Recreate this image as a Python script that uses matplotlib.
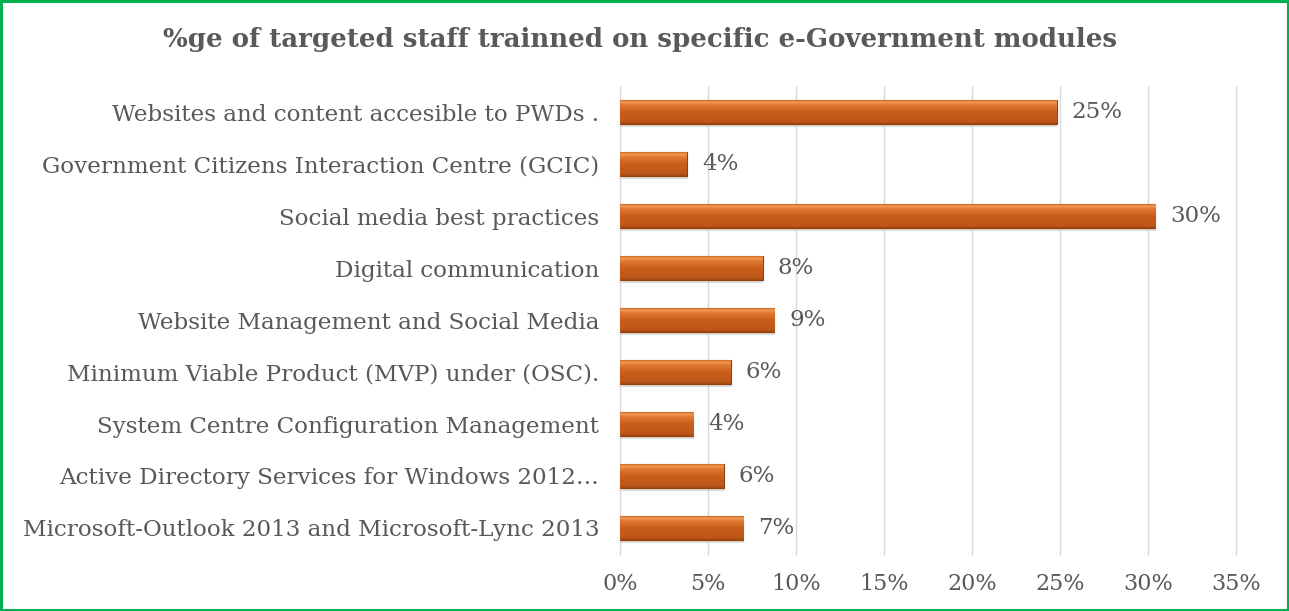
import numpy as np
import matplotlib
matplotlib.use("Agg")
import matplotlib.pyplot as plt
from matplotlib.colors import LinearSegmentedColormap
from matplotlib.patches import Rectangle

title = "%ge of targeted staff trainned on specific e-Government modules"
categories = [
    "Websites and content accesible to PWDs .",
    "Government Citizens Interaction Centre (GCIC)",
    "Social media best practices",
    "Digital communication",
    "Website Management and Social Media",
    "Minimum Viable Product (MVP) under (OSC).",
    "System Centre Configuration Management",
    "Active Directory Services for Windows 2012…",
    "Microsoft-Outlook 2013 and Microsoft-Lync 2013",
]
values = [24.8, 3.8, 30.4, 8.1, 8.75, 6.3, 4.15, 5.9, 7.0]
value_labels = ["25%", "4%", "30%", "8%", "9%", "6%", "4%", "6%", "7%"]
xticks = [0, 5, 10, 15, 20, 25, 30, 35]
xtick_labels = ["0%", "5%", "10%", "15%", "20%", "25%", "30%", "35%"]

plt.rcParams['font.family'] = ['DejaVu Serif']
fig = plt.figure(figsize=(12.89, 6.11), dpi=100)
ax = fig.add_axes([0.481, 0.0933, 0.478, 0.7659])

gray = "#595959"
y = np.arange(len(categories))
bars = ax.barh(y, values, height=0.45, color="#C55A11", edgecolor="#8E3F0C",
               linewidth=0.8, zorder=3)

cmap = LinearSegmentedColormap.from_list(
    "bev", [(0.0, "#A5480F"), (0.12, "#C0581A"), (0.5, "#C95E1B"),
            (0.8, "#E07A30"), (0.92, "#F39A55"), (1.0, "#D06A26")])
grad = np.linspace(0, 1, 64).reshape(-1, 1)
for b in bars:
    x0, y0, w, h = b.get_x(), b.get_y(), b.get_width(), b.get_height()
    ax.add_patch(Rectangle((x0 + 0.05, y0 + h), w, 0.06, color="#BBBBBB",
                           alpha=0.5, zorder=2, linewidth=0))
    im = ax.imshow(grad, extent=(x0, x0 + w, y0 + h, y0), cmap=cmap,
                   aspect="auto", zorder=3.5, origin="lower")
    im.set_clip_path(b)

for yi, v, lab in zip(y, values, value_labels):
    ax.text(v + 0.85, yi, lab, va="center", ha="left", fontsize=16.5,
            color=gray, zorder=5)

ax.set_xlim(0, 35)
ax.set_ylim(len(categories) - 0.5, -0.5)
ax.set_yticks(y)
ax.set_yticklabels(categories, fontsize=16.6, color=gray)
ax.set_xticks(xticks)
ax.set_xticklabels(xtick_labels, fontsize=16, color=gray)
ax.tick_params(axis='both', length=0)
ax.tick_params(axis='x', pad=14)
ax.tick_params(axis='y', pad=15)
for s in ax.spines.values():
    s.set_visible(False)
ax.grid(axis='x', color="#D9D9D9", linewidth=1.0, zorder=0)
ax.set_axisbelow(True)
for gl in ax.get_xgridlines():
    gl.set_clip_on(False)

fig.text(0.4965, 0.935, title, ha="center", va="center", fontsize=18.7,
         fontweight="bold", color=gray)

fig.patches.append(Rectangle((0.001, 0.002), 0.998, 0.996, transform=fig.transFigure,
                             fill=False, edgecolor="#00B050", linewidth=2.2))

fig.savefig("out.png", dpi=100)
